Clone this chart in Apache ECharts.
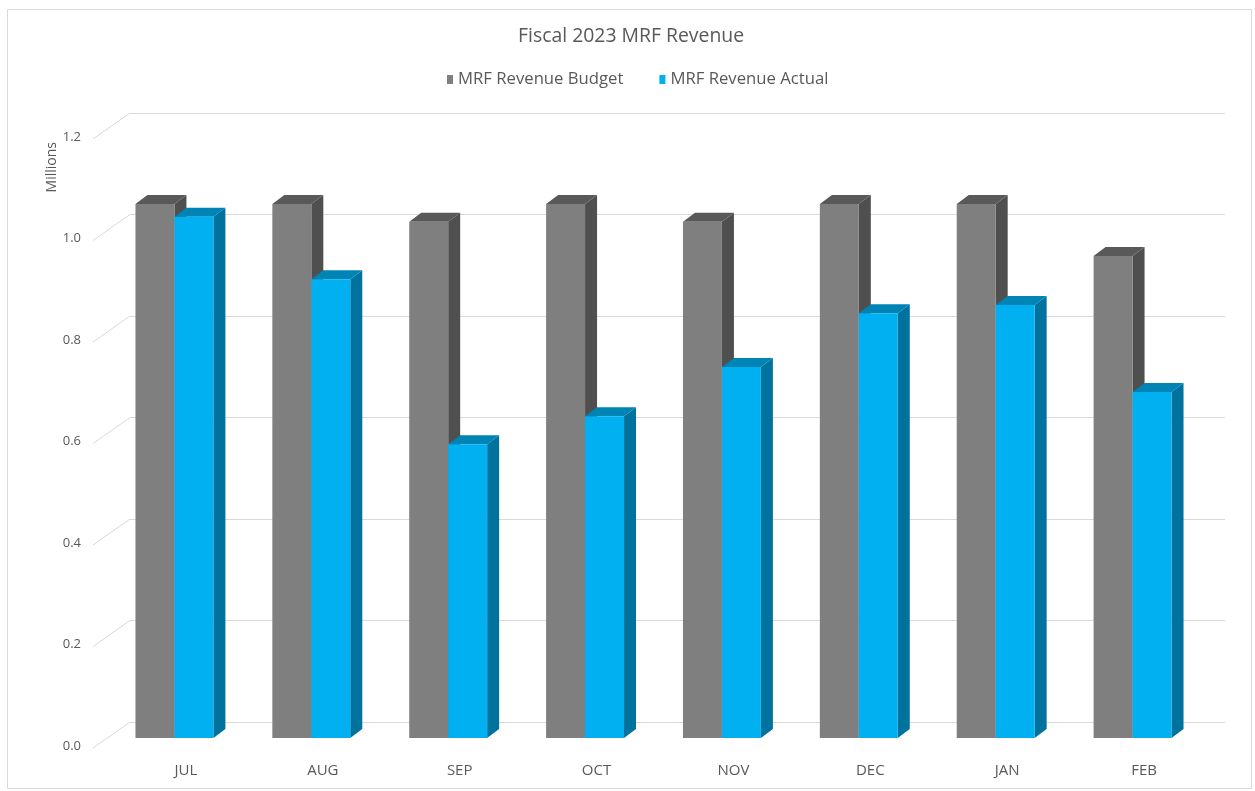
<!DOCTYPE html>
<html>
<head>
<meta charset="utf-8">
<script src="https://cdn.jsdelivr.net/npm/echarts@6/dist/echarts.min.js"></script>
<style>
  html, body { margin: 0; padding: 0; background: #fff; }
  #main { width: 1255px; height: 791px; }
</style>
</head>
<body>
<div id="main"></div>
<script>
// 月份
const categories = ['JUL', 'AUG', 'SEP', 'OCT', 'NOV', 'DEC', 'JAN', 'FEB'];
// 预算 / 实际 (Millions)
const budget = [1.052, 1.052, 1.017, 1.052, 1.017, 1.052, 1.052, 0.95];
const actual = [1.027, 0.904, 0.579, 0.634, 0.731, 0.837, 0.853, 0.682];
// Y轴刻度
const yTicks = [0, 0.2, 0.4, 0.6, 0.8, 1.0, 1.2];

const textColor = '#595959';
const gridColor = '#d9d9d9';
const depthX = 12, depthY = -9; //柱子厚度偏移
const barRatio = 39 / 137; //柱宽占类目宽度比例

//3D柱子
function bar3d(pos, frontColor, topColor, sideColor) {
  return function(params, api) {
    const v = api.value(1);
    const base = api.coord([api.value(0), 0]);
    const top = api.coord([api.value(0), v]);
    const w = api.size([1, 0])[0] * barRatio;
    const x0 = pos === 'left' ? base[0] - w : base[0];
    const x1 = x0 + w;
    const yb = base[1], yt = top[1];
    return {
      type: 'group',
      children: [
        {
          type: 'polygon',
          shape: { points: [[x1, yt], [x1 + depthX, yt + depthY], [x1 + depthX, yb + depthY], [x1, yb]] },
          style: { fill: sideColor },
        },
        {
          type: 'polygon',
          shape: { points: [[x0, yt], [x0 + depthX, yt + depthY], [x1 + depthX, yt + depthY], [x1, yt]] },
          style: { fill: topColor },
        },
        {
          type: 'rect',
          shape: { x: x0, y: yt, width: w, height: yb - yt },
          style: { fill: frontColor },
        },
      ],
    };
  };
}

const chart = echarts.init(document.getElementById('main'));
chart.setOption({
  animation: false,
  textStyle: { fontFamily: 'Open Sans' },
  title: {
    text: 'Fiscal 2023 MRF Revenue',
    left: 513,
    top: 22,
    textStyle: { fontSize: 19.4, fontWeight: 'normal', color: textColor, fontFamily: 'Open Sans' },
  },
  legend: {
    top: 66,
    left: 442,
    icon: 'rect',
    itemWidth: 6,
    itemHeight: 9,
    itemGap: 36,
    textStyle: { fontSize: 16.7, color: textColor },
    data: ['MRF Revenue Budget', 'MRF Revenue Actual'],
  },
  graphic: [
    {
      type: 'rect',
      left: 5,
      top: 7,
      shape: { width: 1244, height: 779 },
      style: { fill: 'none', stroke: gridColor, lineWidth: 1 },
      silent: true,
    },
    {
      type: 'text',
      left: 45,
      top: 142,
      rotation: Math.PI / 2,
      originX: 0,
      originY: 0,
      style: { text: 'Millions', fontSize: 14, fill: textColor, fontFamily: 'Open Sans' },
    },
  ],
  grid: [
    { left: 106, right: 54, top: 129, bottom: 53 }, //柱子(前平面)
    { left: 130, right: 30, top: 113, bottom: 69 }, //背景墙
    { left: 93, right: 30, top: 137, bottom: 45 }, //Y轴标签
  ],
  xAxis: [
    {
      gridIndex: 0,
      type: 'category',
      data: categories,
      axisLine: { show: false },
      axisTick: { show: false },
      axisLabel: { color: textColor, fontSize: 15, margin: 25, padding: [0, 0, 0, 23] },
    },
    { gridIndex: 1, type: 'value', min: 0, max: 1, show: false },
    { gridIndex: 2, type: 'value', min: 0, max: 1, show: false },
  ],
  yAxis: [
    { gridIndex: 0, type: 'value', min: 0, max: 1.2, show: false },
    {
      gridIndex: 1,
      type: 'value',
      min: 0,
      max: 1.2,
      interval: 0.2,
      axisLine: { show: false },
      axisTick: { show: false },
      axisLabel: { show: false },
      splitLine: { lineStyle: { color: gridColor, width: 1 } },
    },
    {
      gridIndex: 2,
      type: 'value',
      min: 0,
      max: 1.2,
      interval: 0.2,
      axisLine: { show: false },
      axisTick: { show: false },
      splitLine: { show: false },
      axisLabel: {
        color: textColor,
        fontSize: 13,
        margin: 12,
        formatter: v => v.toFixed(1),
      },
    },
  ],
  series: [
    {
      //斜线
      type: 'custom',
      xAxisIndex: 1,
      yAxisIndex: 1,
      silent: true,
      data: yTicks.map(v => [0, v]),
      renderItem: function(params, api) {
        const p = api.coord([0, api.value(1)]);
        return {
          type: 'line',
          shape: { x1: p[0] - 37, y1: p[1] + 26, x2: p[0], y2: p[1] },
          style: { stroke: gridColor, lineWidth: 1 },
        };
      },
    },
    {
      type: 'custom',
      name: 'MRF Revenue Budget',
      xAxisIndex: 0,
      yAxisIndex: 0,
      color: '#7f7f7f',
      itemStyle: { color: '#7f7f7f' },
      encode: { x: 0, y: 1 },
      data: budget.map((v, i) => [i, v]),
      renderItem: bar3d('left', '#7f7f7f', '#595959', '#4f4f4f'),
    },
    {
      type: 'custom',
      name: 'MRF Revenue Actual',
      xAxisIndex: 0,
      yAxisIndex: 0,
      color: '#00b0f0',
      itemStyle: { color: '#00b0f0' },
      encode: { x: 0, y: 1 },
      data: actual.map((v, i) => [i, v]),
      renderItem: bar3d('right', '#00b0f0', '#0083b5', '#00729e'),
    },
  ],
});
</script>
</body>
</html>
